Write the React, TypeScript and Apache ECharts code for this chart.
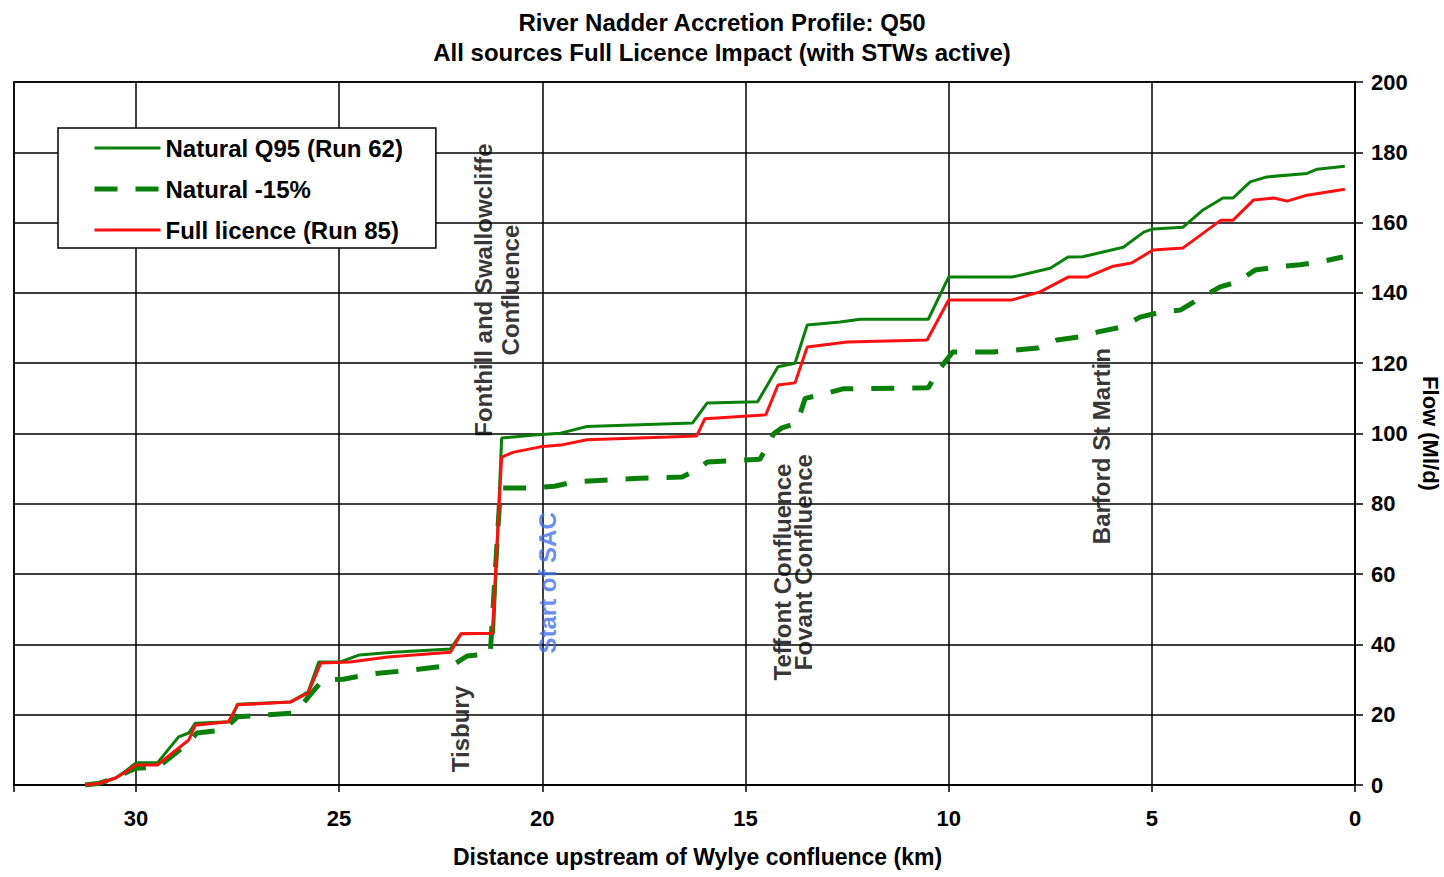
import React, { useEffect, useRef } from "react";
import * as echarts from "echarts";

const FONT = "'Liberation Sans', Arial, sans-serif";

const titleLines = [
  "River Nadder Accretion Profile: Q50",
  "All sources Full Licence Impact (with STWs active)",
];
const xAxisName = "Distance upstream of Wylye confluence (km)";
const yAxisName = "Flow (Ml/d)";
const seriesNames = ["Natural Q95 (Run 62)", "Natural -15%", "Full licence (Run 85)"];

// [distance km, flow Ml/d]
const naturalQ95: number[][] = [
  [31.25, 0], [30.9, 0.5], [30.5, 2], [30.25, 4], [30.0, 6.3], [29.47, 6.3], [28.95, 13.7],
  [28.7, 14.8], [28.54, 17.6], [27.68, 18], [27.5, 23], [26.2, 23.6], [25.76, 26.5], [25.5, 35],
  [24.97, 35], [24.5, 37], [23.67, 37.8], [22.26, 38.7], [22.0, 43], [21.2, 43.2], [21.0, 98.7],
  [20.2, 99.6], [19.55, 100.1], [18.9, 102], [16.3, 103], [15.94, 108.7], [14.7, 109], [14.2, 119],
  [13.78, 120], [13.48, 130.9], [12.67, 131.7], [12.18, 132.5], [10.5, 132.5], [10.0, 144.5],
  [8.44, 144.5], [7.5, 147], [7.06, 150.2], [6.7, 150.3], [5.7, 153], [5.2, 157.3], [4.97, 158.2],
  [4.23, 158.7], [3.74, 163.6], [3.25, 167], [3.0, 167], [2.58, 171.6], [2.17, 173], [1.18, 174],
  [0.93, 175.2], [0.25, 176],
];

const natural15: number[][] = [
  [31.25, 0], [30.9, 0.5], [30.5, 2], [30.25, 3.5], [30.0, 4.8], [29.47, 5], [28.7, 12], [28.5, 14.8],
  [27.85, 15.6], [27.5, 19.4], [26.1, 20.5], [25.93, 22.5], [25.76, 25], [25.4, 29.9], [24.9, 30.1],
  [24.2, 31.6], [23.2, 32.7], [22.2, 34.1], [21.85, 36.7], [21.28, 37.3], [21.03, 84.5], [20.37, 84.5],
  [19.7, 85], [19.24, 86.2], [17.6, 87.3], [16.56, 87.6], [16.2, 89.6], [15.94, 91.9], [14.64, 92.7],
  [14.3, 100], [14.1, 101.6], [13.73, 103], [13.53, 110], [13.16, 111], [12.6, 112.7], [10.5, 113],
  [10.28, 117.5], [9.9, 123.2], [8.9, 123.2], [7.82, 124.3], [7.33, 126.6], [6.77, 127.5], [6.32, 128.9],
  [5.73, 130.3], [5.29, 133.1], [4.75, 134.6], [4.3, 135.1], [3.81, 138.5], [3.32, 141.7], [2.9, 143.1],
  [2.46, 146.5], [1.92, 147.4], [1.35, 148], [0.86, 148.8], [0.3, 150.2],
];

const fullLicence: number[][] = [
  [31.25, 0], [30.9, 0.5], [30.5, 2], [30.25, 3.7], [30.0, 5.7], [29.47, 5.7], [28.7, 12.8], [28.54, 17],
  [27.72, 18], [27.5, 22.8], [26.2, 23.6], [25.76, 26.2], [25.45, 34.7], [24.73, 35], [23.8, 36.4],
  [22.26, 37.8], [22.0, 43], [21.23, 43.2], [21.0, 93.3], [20.7, 94.7], [20.05, 96.2], [19.55, 96.7],
  [18.9, 98.2], [16.9, 99], [16.2, 99.3], [16.0, 104.2], [14.5, 105.3], [14.2, 113.8], [13.78, 114.4],
  [13.48, 124.6], [12.5, 126], [10.53, 126.6], [10.0, 138], [8.44, 138], [7.75, 140.3], [7.06, 144.5],
  [6.6, 144.5], [5.95, 147.6], [5.5, 148.5], [4.97, 152.2], [4.23, 152.8], [3.3, 160.7], [3.0, 160.7],
  [2.5, 166.4], [2.0, 167], [1.67, 166.1], [1.18, 167.8], [0.25, 169.5],
];

// annotation texts: [km, flow, text, colour]
const annotations: [number, number, string, string][] = [
  [22.01, 15.9, "Tisbury", "#000000"],
  [21.11, 140.8, "Fonthill and Swallowcliffe\nConfluence", "#000000"],
  [19.87, 57.5, "Start of SAC", "#3f6fe8"],
  [14.1, 60.6, "Teffont Confluence", "#000000"],
  [13.58, 63.4, "Fovant Confluence", "#000000"],
  [6.25, 96.4, "Barford St Martin", "#000000"],
];

const GREEN = "#0a800a";
const RED = "#ff1010";

export default function App() {
  const ref = useRef<HTMLDivElement>(null);
  useEffect(() => {
    if (!ref.current) return;
    const chart = echarts.init(ref.current, undefined, { renderer: "svg" });
    const axisText = { color: "#000", fontSize: 22, fontWeight: "bold" as const, fontFamily: FONT };
    chart.setOption({
      animation: false,
      backgroundColor: "#ffffff",
      title: {
        text: titleLines.join("\n"),
        left: "center",
        top: 2,
        textStyle: { color: "#000", fontSize: 24, fontWeight: "bold", fontFamily: FONT, lineHeight: 30 },
      },
      grid: {
        left: 14, right: 89, top: 82, bottom: 92,
        outerBoundsMode: "none",
        containLabel: false,
        show: true, borderColor: "#000", borderWidth: 1.5, backgroundColor: "transparent",
      },
      legend: {
        data: seriesNames,
        orient: "vertical",
        left: 58,
        top: 128,
        backgroundColor: "#fff",
        borderColor: "#000",
        borderWidth: 1.5,
        borderRadius: 0,
        padding: [8, 33, 6, 34],
        itemWidth: 66,
        itemHeight: 20,
        itemGap: 17,
        itemStyle: { opacity: 0 },
        lineStyle: { width: "inherit" },
        textStyle: { color: "#000", fontSize: 24, fontWeight: "bold", fontFamily: FONT },
      },
      xAxis: {
        type: "value",
        inverse: true,
        min: 0,
        max: 33,
        interval: 5,
        name: xAxisName,
        nameLocation: "middle",
        nameGap: 60,
        nameTextStyle: { ...axisText, fontSize: 23, padding: [0, 0, 0, 26] },
        axisLine: { show: true, lineStyle: { color: "#000", width: 1.5 } },
        axisTick: { show: true, length: 7, lineStyle: { color: "#000", width: 1.5 } },
        axisLabel: { ...axisText, margin: 22, formatter: (v: number) => (v > 30 ? "" : String(v)) },
        splitLine: { show: true, lineStyle: { color: "#000", width: 1.5 } },
      },
      yAxis: {
        type: "value",
        position: "right",
        min: 0,
        max: 200,
        interval: 20,
        name: yAxisName,
        nameLocation: "middle",
        nameRotate: -90,
        nameGap: 64,
        nameTextStyle: { ...axisText, fontSize: 22 },
        axisLine: { show: true, lineStyle: { color: "#000", width: 1.5 } },
        axisTick: { show: true, length: 8, lineStyle: { color: "#000", width: 1.5 } },
        axisLabel: { ...axisText, margin: 16 },
        splitLine: { show: true, lineStyle: { color: "#000", width: 1.5 } },
      },
      series: [
        {
          name: seriesNames[0], type: "line", data: naturalQ95, symbol: "none",
          itemStyle: { color: GREEN }, lineStyle: { color: GREEN, width: 3 }, z: 3,
        },
        {
          name: seriesNames[1], type: "line", data: natural15, symbol: "none",
          itemStyle: { color: GREEN }, lineStyle: { color: GREEN, width: 5, type: [23, 18] }, z: 2,
        },
        {
          name: seriesNames[2], type: "line", data: fullLicence, symbol: "none",
          itemStyle: { color: RED }, lineStyle: { color: RED, width: 3 }, z: 4,
        },
        {
          name: "annotations", type: "scatter", symbolSize: 0, silent: true, z: 10,
          data: annotations.map(([km, flow, text, color]) => ({
            value: [km, flow], name: text, label: { color },
          })),
          label: {
            show: true, position: "inside", rotate: 90, formatter: "{b}",
            fontSize: 24, fontWeight: "bold", fontFamily: FONT, lineHeight: 27, align: "center",
          },
        },
      ],
    });
    return () => chart.dispose();
  }, []);
  return <div ref={ref} style={{ position: "fixed", left: 0, top: 0, width: 1444, height: 877 }} />;
}
